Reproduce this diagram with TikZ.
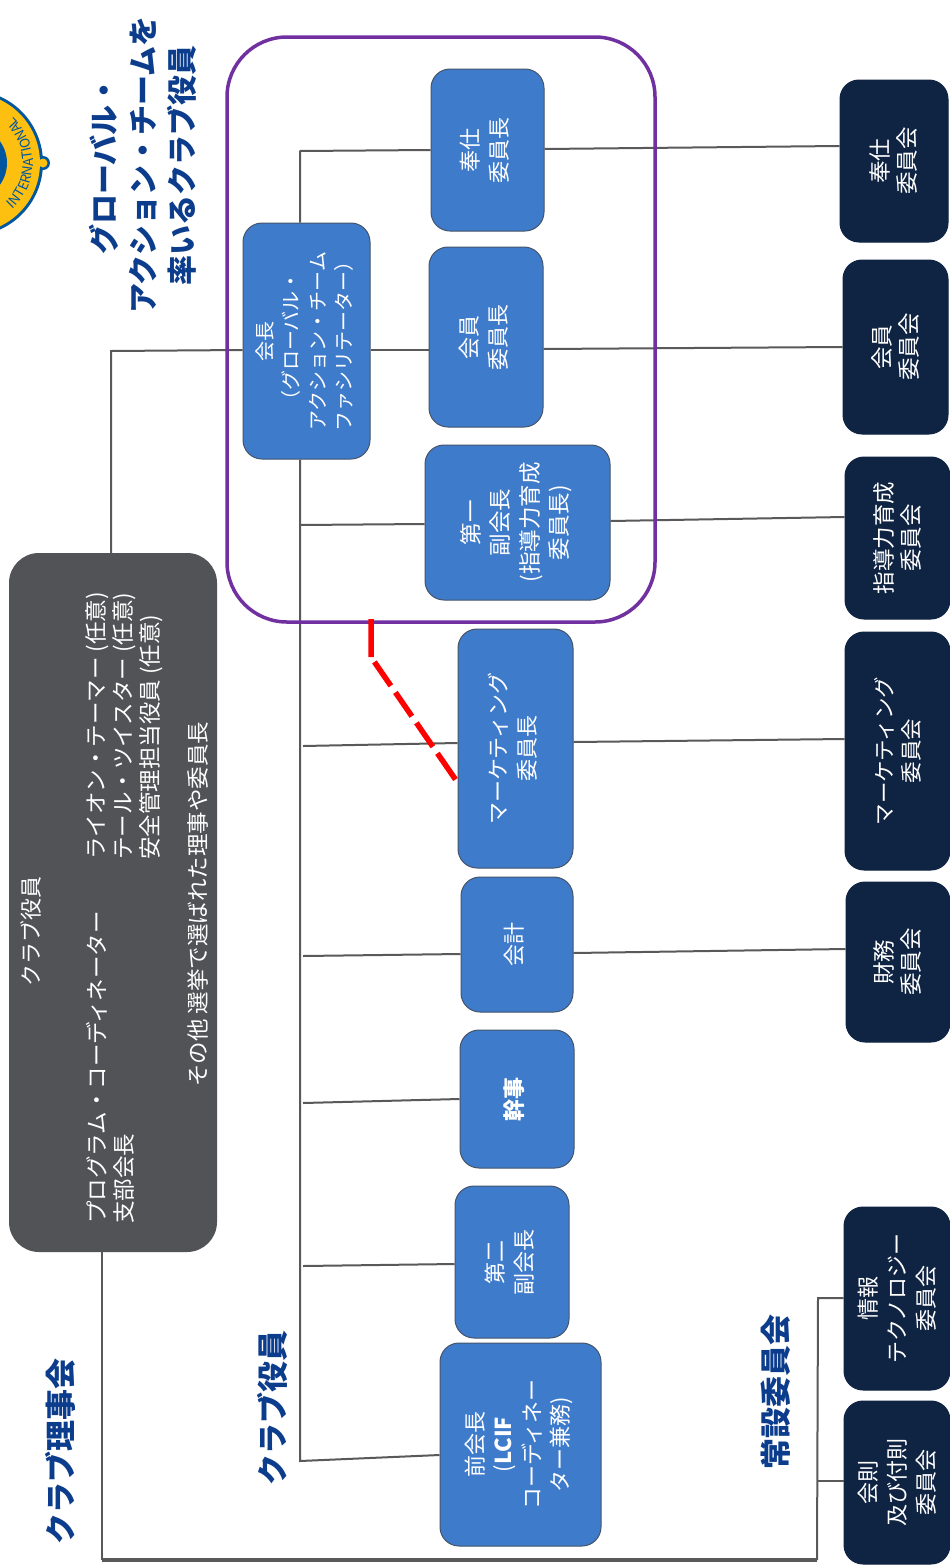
\documentclass[tikz,border=0pt]{standalone}
\usepackage{fontspec}
\setmainfont{Noto Sans CJK JP}
\usetikzlibrary{calc,decorations.text}
\definecolor{bluebox}{HTML}{3F7BCB}
\definecolor{navybox}{HTML}{0F2342}
\definecolor{greybox}{HTML}{525357}
\definecolor{edgegrey}{HTML}{44546A}
\definecolor{linegrey}{HTML}{595959}
\definecolor{purpleframe}{HTML}{7030A0}
\definecolor{headblue}{HTML}{0C3C8C}
\definecolor{lionblue}{HTML}{00569F}
\definecolor{liongold}{HTML}{FDC010}
\tikzset{
  x=1pt,y=-1pt,
  boxbase/.style={rectangle,rounded corners=19pt,inner sep=0pt,text=white,align=center},
  bluenode/.style={boxbase,fill=bluebox,draw=edgegrey,line width=1pt},
  navynode/.style={boxbase,fill=navybox,draw=navybox,line width=1pt},
  ln/.style={draw=linegrey,line width=2pt},
  thickln/.style={draw=linegrey,line width=4pt},
  head/.style={rotate=90,text=headblue,font=\fontsize{30}{39}\selectfont\bfseries,align=center,inner sep=0pt},
  greytext/.style={rotate=90,anchor=west,text=white,font=\fontsize{22.5}{26}\selectfont,inner sep=0pt},
}
% box: name, x0, x1, y0, y1, style, font size, line skip, text
\newcommand{\bx}[9]{%
  \node[#6,minimum width={(#3-#2)*1pt},minimum height={(#5-#4)*1pt}] (#1) at ({(#2+#3)/2},{(#4+#5)/2})
    {\rotatebox{90}{\fontsize{#7}{#8}\selectfont\begin{tabular}{@{}c@{}}#9\end{tabular}}};}
% committee box whose text sits right of the box centre
\newcommand{\cbx}[9]{%
  \node[#6,minimum width={(#3-#2)*1pt},minimum height={(#5-#4)*1pt}] (#1) at ({(#2+#3)/2},{(#4+#5)/2})
    {\hspace*{6pt}\rotatebox{90}{\fontsize{#7}{#8}\selectfont\begin{tabular}{@{}c@{}}#9\end{tabular}}\hspace*{-0pt}};}
\begin{document}
\begin{tikzpicture}
\useasboundingbox (0,0) rectangle (950,1566);
\clip (0,0) rectangle (950,1566);
\fill[white] (0,0) rectangle (950,1566);

% logo
\coordinate (logoc) at (-30,163);
\coordinate (logobump) at (43,163);
\fill[lionblue] (logobump) circle (7);
\fill[lionblue] (logoc) circle (73);
\fill[liongold] (logoc) circle (70);
\fill[liongold] (logobump) circle (4.5);
\fill[lionblue] (logoc) circle (37);
\path[decorate,decoration={text along path,text align=center,
   text={|\fontsize{13.5}{14}\selectfont\color{lionblue}|INTERNATIONAL}}]
   ($(logoc)+(52:63)$) arc (52:-52:63);

% headings
\node[head] (htitle) at (143,165) {グローバル・\\アクション・チームを\\率いるクラブ役員};
\node[head,font=\fontsize{31}{39}\selectfont\bfseries] (hboard) at (60,1451) {クラブ理事会};
\node[head,font=\fontsize{31}{39}\selectfont\bfseries] (hofficers) at (272,1408) {クラブ役員};
\node[head,font=\fontsize{31}{39}\selectfont\bfseries] (hstanding) at (776,1392) {常設委員会};

% grey box
\node[rectangle,rounded corners=30pt,fill=greybox,minimum width=208pt,minimum height=699pt] (grey) at (113,902.5) {};
\node[rotate=90,text=white,font=\fontsize{22}{26}\selectfont,inner sep=0pt] (gt0) at (31,931) {クラブ役員};
\node[greytext] (gt1) at (97,1224) {プログラム・コーディネーター};
\node[greytext] (gt2) at (124,1224) {支部会長};
\node[greytext] (gt3) at (97,860) {ライオン・テーマー (任意)};
\node[greytext] (gt4) at (124,860) {テール・ツイスター (任意)};
\node[greytext] (gt5) at (151,860) {安全管理担当役員 (任意)};
\node[greytext] (gt6) at (198,1087) {その他 選挙で選ばれた理事や委員長};

% officers
\bx{kaicho}{243}{370}{223}{459}{bluenode}{20}{26.5}{会長\\（グローバル・\\アクション・チーム\\ファシリテーター）}
\bx{hoshi}{431}{544}{69}{231}{bluenode}{22}{29}{奉仕\\委員長}
\bx{kaiin}{429}{543}{247}{427}{bluenode}{22}{29}{会員\\委員長}
\bx{fvp}{425}{610}{445}{600}{bluenode}{22.5}{29.5}{第一\\副会長\\(指導力育成\\委員長)}
\bx{mkt}{458}{573}{629}{868}{bluenode}{22}{29}{マーケティング\\委員長}
\bx{kaikei}{461}{573}{877}{1012}{bluenode}{22}{29}{会計}
\bx{kanji}{460}{574}{1030}{1168}{bluenode}{22}{29}{\bfseries 幹事}
\bx{svp}{455}{569}{1186}{1338}{bluenode}{22}{29}{第二\\副会長}
\bx{pp}{440}{601}{1343}{1546}{bluenode}{22}{28.5}{前会長\\(\textbf{LCIF}\\コーディネー\\ター兼務)}

% committees
\cbx{choshi}{840}{948}{80}{242}{navynode}{22.5}{27}{奉仕\\委員会}
\cbx{ckaiin}{843}{948}{260}{434}{navynode}{22.5}{27}{会員\\委員会}
\cbx{clead}{845}{950}{457}{619}{navynode}{22.5}{27}{指導力育成\\委員会}
\cbx{cmkt}{845}{950}{632}{870}{navynode}{21.5}{27}{マーケティング\\委員会}
\cbx{czai}{846}{950}{882}{1042}{navynode}{22.5}{27}{財務\\委員会}
\cbx{cit}{844}{950}{1207}{1390}{navynode}{22}{29}{情報\\テクノロジー\\委員会}
\cbx{crule}{844}{950}{1401}{1564}{navynode}{22}{29}{会則\\及び付則\\委員会}

% free ends
\coordinate (ttop) at (300,151);
\coordinate (tbot) at (300,1461);
\coordinate (tfvp) at (300,525);
\coordinate (tmkt) at (303,746);
\coordinate (tkaikei) at (303,956);
\coordinate (tkanji) at (303,1103);
\coordinate (tsvp) at (303,1266);
\coordinate (boardtop) at (111,351);
\coordinate (boardbot) at (102,1560);
\coordinate (standbot) at (817,1560);
\coordinate (standtop) at (818,1298);
\coordinate (standmid) at (818,1481);

% connectors
\draw[ln] ($(kaicho.north)+(-6.5,0)$) -- ($(kaicho.north)+(-6.5,-72)$) -- (ttop) -- (hoshi.west);
\draw[ln] ($(kaicho.south)+(-6.5,0)$) -- (tbot) -- ($(pp.west)+(0,10.5)$);
\draw[ln] (tfvp) -- ($(fvp.west)+(0,1.5)$);
\draw[ln] (tmkt) -- ($(mkt.west)+(0,-5.5)$);
\draw[ln] (tkaikei) -- ($(kaikei.west)+(0,9.5)$);
\draw[ln] (tkanji) -- (kanji.west);
\draw[ln] (tsvp) -- ($(svp.west)+(0,2)$);
\draw[ln] ($(hoshi.east)+(0,-1)$) -- ($(choshi.west)+(0,-15)$);
\draw[ln] ($(kaiin.east)+(0,12)$) -- ($(ckaiin.west)+(0,0)$);
\draw[ln] ($(kaicho.east)+(0,9)$) -- ($(kaiin.west)+(0,13)$);
\draw[ln] ($(fvp.east)+(0,-1.5)$) -- ($(clead.west)+(0,-21)$);
\draw[ln] ($(mkt.east)+(0,-6.5)$) -- ($(cmkt.west)+(0,-12)$);
\draw[ln] ($(kaikei.east)+(0,8.5)$) -- ($(czai.west)+(0,-13)$);
\draw[ln] ($(kaicho.west)+(0,9)$) -- (boardtop) -- ($(grey.north)+(-2,0)$);
\draw[ln] (grey.south -| boardbot) -- (boardbot);
\draw[thickln] (boardbot) -- (standbot);
\draw[ln] (standbot) -- (standtop) -- ($(cit.west)+(0,-0.5)$);
\draw[ln] (standmid) -- ($(crule.west)+(0,-1.5)$);

% purple frame
\node[rectangle,rounded corners=60pt,draw=purpleframe,line width=3.5pt,minimum width=428pt,minimum height=585pt,inner sep=0pt] (frame) at (441,329.5) {};

% red dashed
\coordinate (redtop) at (371,619);
\coordinate (redknee) at (371,657);
\draw[red,line width=5.5pt,dash pattern=on 38pt off 6pt on 29pt off 8pt on 29pt off 8pt on 29pt off 8pt on 40pt] (redtop) -- (redknee) -- ($(mkt.west)+(-2,31)$);
\end{tikzpicture}
\end{document}
